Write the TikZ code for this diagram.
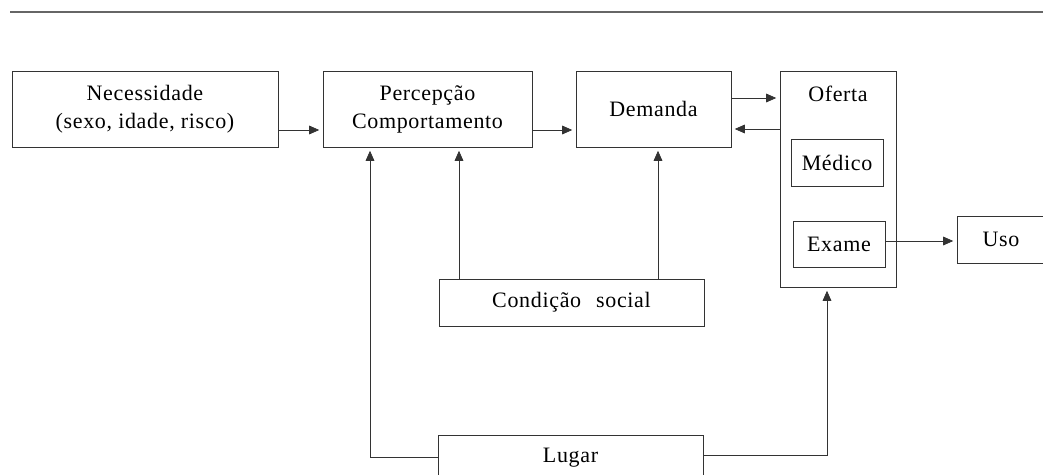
\documentclass[tikz,border=0pt]{standalone}
\usepackage{fontspec}
\setmainfont{Liberation Serif}[LetterSpace=3]
\usetikzlibrary{arrows.meta}
\tikzset{
  txt/.style={font=\fontsize{16.5}{21}\selectfont},
  box/.style={draw=black!80, line width=0.65pt, minimum width=#1, inner sep=0pt, align=center, txt},
  conn/.style={draw=black!80, line width=0.65pt},
  arr/.style={conn, -{Triangle[length=7.5pt,width=6.5pt]}, shorten >=2.5pt},
}
\begin{document}
\begin{tikzpicture}[x=0.75pt, y=-0.75pt]
\clip (0,0) rectangle (1043,475);
\draw[draw=black!60, line width=1.5pt] (10,12) -- (1043,12);
\node[box=266*0.75pt, minimum height=76*0.75pt] (nec) at (145,109) {Necessidade\\(sexo, idade, risco)};
\node[box=209*0.75pt, minimum height=76*0.75pt] (perc) at (427.5,109) {Percepção\\Comportamento};
\node[box=155*0.75pt, minimum height=76*0.75pt] (dem) at (653.5,109) {Demanda};
\node[box=116*0.75pt, minimum height=216*0.75pt] (of) at (838,179) {};
\node[txt, inner sep=0pt] (oft) at (838,94) {Oferta};
\node[box=92*0.75pt, minimum height=47*0.75pt] (med) at (837,162.5) {Médico};
\node[box=92*0.75pt, minimum height=46*0.75pt] (ex) at (839,244) {Exame};
\node[box=88*0.75pt, minimum height=47*0.75pt] (uso) at (1001,239.5) {Uso};
\node[box=265*0.75pt, minimum height=47*0.75pt] (cond) at (571.5,302.5) {Condição\hspace{0.4em} social};
\node[box=265*0.75pt, minimum height=46*0.75pt] (lug) at (570.5,458) {Lugar};
\coordinate (c1) at (370,457);
\coordinate (c2) at (827,455);
\draw[arr] (nec.east |- 0,130) -- (perc.west |- 0,130);
\draw[arr] (perc.east |- 0,130) -- (dem.west |- 0,130);
\draw[arr] (dem.east |- 0,98) -- (of.west |- 0,98);
\draw[arr] (of.west |- 0,129) -- (dem.east |- 0,129);
\draw[arr] (ex.east |- 0,241) -- (uso.west |- 0,241);
\draw[arr] (cond.north -| 459,0) -- (perc.south -| 459,0);
\draw[arr] (cond.north -| 658,0) -- (dem.south -| 658,0);
\draw[arr] (lug.west |- c1) -- (c1) -- (perc.south -| c1);
\draw[arr] (lug.east |- c2) -- (c2) -- (of.south -| c2);
\end{tikzpicture}
\end{document}
